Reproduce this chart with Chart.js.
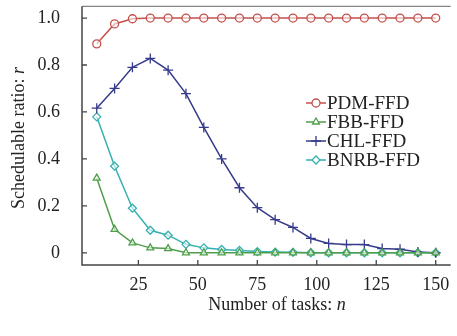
<!DOCTYPE html>
<html>
<head>
<meta charset="utf-8">
<script src="https://cdn.jsdelivr.net/npm/chart.js@4/dist/chart.umd.min.js"></script>
<style>
  html, body { margin: 0; padding: 0; background: #fff; }
  #wrap { width: 457px; height: 336px; }
</style>
</head>
<body>
<div id="wrap"><canvas id="chart" width="457" height="336"></canvas></div>
<script>
// number of tasks
const taskCounts = [7.5, 15, 22.5, 30, 37.5, 45, 52.5, 60, 67.5, 75, 82.5, 90, 97.5, 105, 112.5, 120, 127.5, 135, 142.5, 150];

const pdmFfd  = [0.89, 0.975, 0.997, 1, 1, 1, 1, 1, 1, 1, 1, 1, 1, 1, 1, 1, 1, 1, 1, 1];
const fbbFfd  = [0.318, 0.10, 0.042, 0.021, 0.018, 0, 0, 0, 0, 0, 0, 0, 0, 0, 0, 0, 0, 0, 0, 0];
const chlFfd  = [0.616, 0.70, 0.79, 0.828, 0.778, 0.678, 0.534, 0.40, 0.277, 0.192, 0.141, 0.108, 0.061, 0.040, 0.035, 0.035, 0.018, 0.015, 0.003, 0];
const bnrbFfd = [0.579, 0.369, 0.19, 0.096, 0.075, 0.036, 0.021, 0.014, 0.010, 0.005, 0.003, 0.002, 0, 0, 0, 0, 0, 0, 0, 0];

const xTicks = [25, 50, 75, 100, 125, 150];
const yTicks = [0, 0.2, 0.4, 0.6, 0.8, 1.0];
const yTickLabels = ['0', '0.2', '0.4', '0.6', '0.8', '1.0'];

const font = 'Liberation Serif';

function series(label, values, color, style) {
    return {
        label: label,
        data: taskCounts.map((x, i) => ({ x: x, y: values[i] })),
        borderColor: color,
        backgroundColor: 'rgba(255,255,255,0.6)',
        borderWidth: 1.5,
        pointStyle: style,
        pointRadius: style === 'cross' ? 5 : 4,
        pointBorderWidth: 1.3,
        pointBorderColor: color,
        tension: 0
    };
}

// draws the box, inward tick marks and the axis titles (with italic variable)
const frame = {
    id: 'frame',
    afterDraw(chart) {
        const c = chart.ctx, a = chart.chartArea;
        const xs = chart.scales.x, ys = chart.scales.y;
        c.save();
        c.strokeStyle = '#444';
        c.lineWidth = 1.5;
        c.beginPath();
        c.moveTo(a.left, a.top); c.lineTo(a.left, a.bottom); c.lineTo(a.right, a.bottom);
        c.stroke();
        c.lineWidth = 1;
        c.strokeStyle = '#666';
        c.beginPath();
        c.moveTo(a.left, a.top); c.lineTo(a.right, a.top);
        c.stroke();
        c.lineWidth = 1.3;
        c.strokeStyle = '#444';
        c.beginPath();
        xTicks.forEach(v => { const px = xs.getPixelForValue(v); c.moveTo(px, a.bottom); c.lineTo(px, a.bottom - 5); });
        yTicks.forEach(v => { const py = ys.getPixelForValue(v); c.moveTo(a.left, py); c.lineTo(a.left + 5, py); });
        c.stroke();

        c.fillStyle = '#222';
        c.textBaseline = 'middle';
        const drawTitle = (plain, ital) => {
            c.font = '18px "' + font + '"';
            const w1 = c.measureText(plain).width;
            c.font = 'italic 18px "' + font + '"';
            const w2 = c.measureText(ital).width;
            let x = -(w1 + w2) / 2;
            c.font = '18px "' + font + '"';
            c.fillText(plain, x, 0);
            c.font = 'italic 18px "' + font + '"';
            c.fillText(ital, x + w1, 0);
        };
        c.textAlign = 'left';
        c.save();
        c.translate(277, 305);
        drawTitle('Number of tasks: ', 'n');
        c.restore();
        c.save();
        c.translate(19, 138);
        c.rotate(-Math.PI / 2);
        drawTitle('Schedulable ratio: ', 'r');
        c.restore();
        c.restore();
    }
};

// legend with line + marker
const lineLegend = {
    id: 'lineLegend',
    afterDraw(chart) {
        const c = chart.ctx;
        const x0 = 306, y0 = 103, step = 19;
        c.save();
        chart.data.datasets.forEach((ds, i) => {
            const y = y0 + i * step;
            c.strokeStyle = ds.borderColor;
            c.lineWidth = 1.5;
            c.beginPath(); c.moveTo(x0, y); c.lineTo(x0 + 20, y); c.stroke();
            c.fillStyle = '#fff';
            c.lineWidth = 1.3;
            Chart.helpers.drawPoint(c, { pointStyle: ds.pointStyle, radius: ds.pointRadius, rotation: 0, borderWidth: 1.3 }, x0 + 10, y);
            c.fillStyle = '#222';
            c.font = '19px "' + font + '"';
            c.textBaseline = 'middle';
            c.fillText(ds.label, x0 + 21, y + 1);
        });
        c.restore();
    }
};

new Chart(document.getElementById('chart'), {
    type: 'line',
    data: {
        datasets: [
            series('PDM-FFD', pdmFfd, '#c4504c', 'circle'),
            series('FBB-FFD', fbbFfd, '#4f9e4a', 'triangle'),
            series('CHL-FFD', chlFfd, '#363b8c', 'cross'),
            series('BNRB-FFD', bnrbFfd, '#35b0b0', 'rectRot')
        ]
    },
    options: {
        responsive: false,
        animation: false,
        layout: { padding: { top: 3.7, right: -4.3, left: 0, bottom: 0 } },
        plugins: { legend: { display: false }, tooltip: { enabled: false } },
        scales: {
            x: {
                type: 'linear',
                min: 1.3,
                max: 156.3,
                afterBuildTicks: s => { s.ticks = xTicks.map(v => ({ value: v })); },
                afterFit: s => { s.height = 71; s.paddingRight = 0; s.paddingLeft = 0; },
                grid: { display: false, drawTicks: false },
                border: { display: false },
                ticks: { color: '#222', font: { family: font, size: 18 }, padding: 9, maxRotation: 0 }
            },
            y: {
                min: -0.052,
                max: 1.05,
                afterBuildTicks: s => { s.ticks = yTicks.map(v => ({ value: v })); },
                afterFit: s => { s.width = 82; s.paddingTop = 0; s.paddingBottom = 0; },
                grid: { display: false, drawTicks: false },
                border: { display: false },
                ticks: {
                    color: '#222',
                    font: { family: font, size: 18 },
                    padding: 22,
                    callback: (v) => yTickLabels[yTicks.indexOf(v)] ?? ''
                }
            }
        }
    },
    plugins: [frame, lineLegend]
});
</script>
</body>
</html>
